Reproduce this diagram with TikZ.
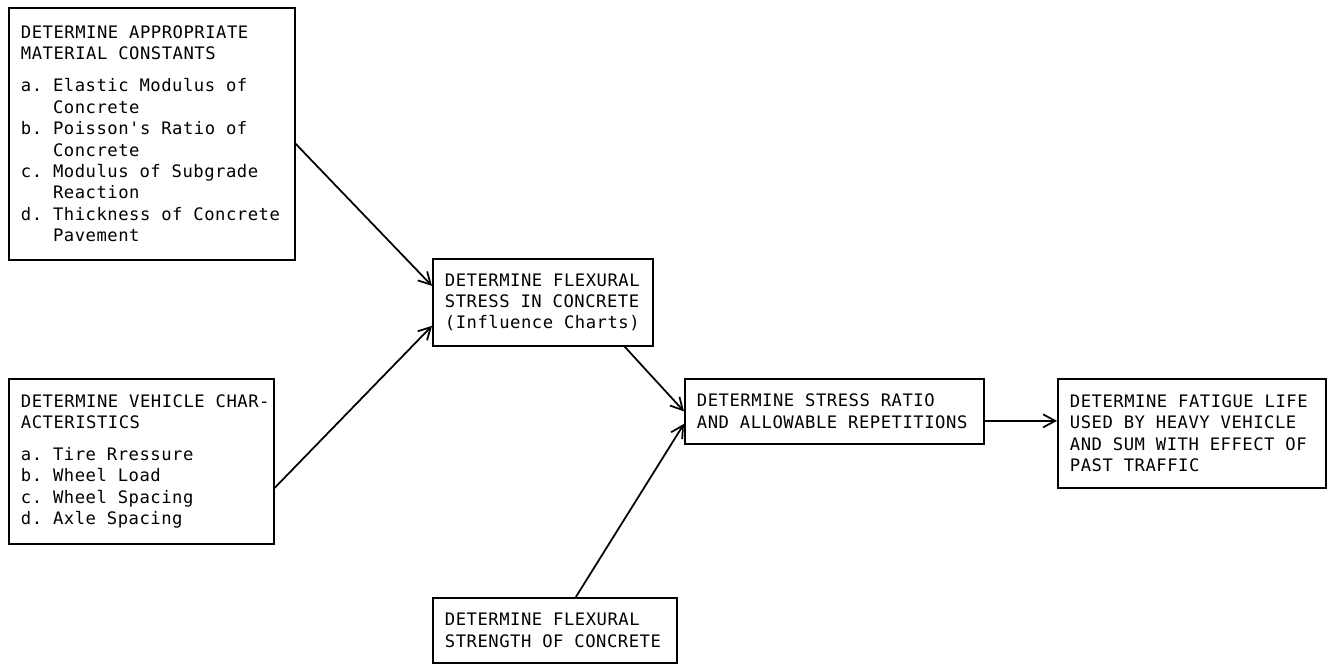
\documentclass[tikz,border=0pt]{standalone}
\usepackage{fontspec}
\setmonofont{DejaVu Sans Mono}[LetterSpace=3]
\usepackage{tikz}
\usetikzlibrary{arrows.meta}
\newcommand{\ind}{\phantom{a.~}}
\newcommand{\boxfont}{\ttfamily\fontsize{9.8}{12.2}\selectfont}
\newcommand{\fixspaces}{\spaceskip=0.632em\relax\xspaceskip=0.632em\relax}

\begin{document}
\begin{tikzpicture}[x=0.02cm,y=-0.02cm,
        stepbox/.style={draw,line width=1pt,anchor=north west,align=left,inner xsep=0.24cm,
            font=\boxfont,execute at begin node=\fixspaces},
        flow/.style={line width=1pt,-{Straight Barb[length=0.24cm,width=0.26cm]}}]
                \useasboundingbox (0,0) rectangle (1330,665);
                % Input boxes
                \node[stepbox,text width=5.24cm,minimum width=5.72cm,minimum height=5.04cm] (consts) at (8,7)
                    {DETERMINE APPROPRIATE\\MATERIAL CONSTANTS\\[6pt]
                     a. Elastic Modulus of\\\ind Concrete\\
                     b. Poisson's Ratio of\\\ind Concrete\\
                     c. Modulus of Subgrade\\\ind Reaction\\
                     d. Thickness of Concrete\\\ind Pavement};
                \node[stepbox,text width=4.82cm,minimum width=5.30cm,minimum height=3.30cm] (vehicle) at (8,378)
                    {DETERMINE~VEHICLE~CHAR-\\ACTERISTICS\\[6pt]
                     a. Tire Rressure\\b. Wheel Load\\c. Wheel Spacing\\d. Axle Spacing};
                \node[stepbox,text width=4.40cm,minimum width=4.88cm,minimum height=1.30cm] (strength) at (432,597)
                    {DETERMINE FLEXURAL\\STRENGTH OF CONCRETE};
                % Process boxes
                \node[stepbox,text width=3.92cm,minimum width=4.40cm,minimum height=1.74cm] (stress) at (432,258)
                    {DETERMINE FLEXURAL\\STRESS IN CONCRETE\\(Influence Charts)};
                \node[stepbox,text width=5.50cm,minimum width=5.98cm,minimum height=1.30cm] (ratio) at (684,378)
                    {DETERMINE STRESS RATIO\\AND ALLOWABLE REPETITIONS};
                \node[stepbox,text width=4.88cm,minimum width=5.36cm,minimum height=2.18cm] (fatigue) at (1057,378)
                    {DETERMINE FATIGUE LIFE\\USED BY HEAVY VEHICLE\\AND SUM WITH EFFECT OF\\PAST TRAFFIC};
                % Arrows
                \draw[flow] ([yshift=-0.2cm]consts.east) -- ([yshift=0.33cm]stress.west);
                \draw[flow] ([yshift=-0.53cm]vehicle.east) -- ([yshift=-0.47cm]stress.west);
                \draw[flow] ([xshift=-0.58cm]stress.south east) -- (ratio.west);
                \draw[flow] ([xshift=0.42cm]strength.north) -- ([yshift=-0.25cm]ratio.west);
                \draw[flow] ([yshift=-0.19cm]ratio.east) -- ([yshift=-0.19cm]ratio.east -| fatigue.west);
\end{tikzpicture}
\end{document}
